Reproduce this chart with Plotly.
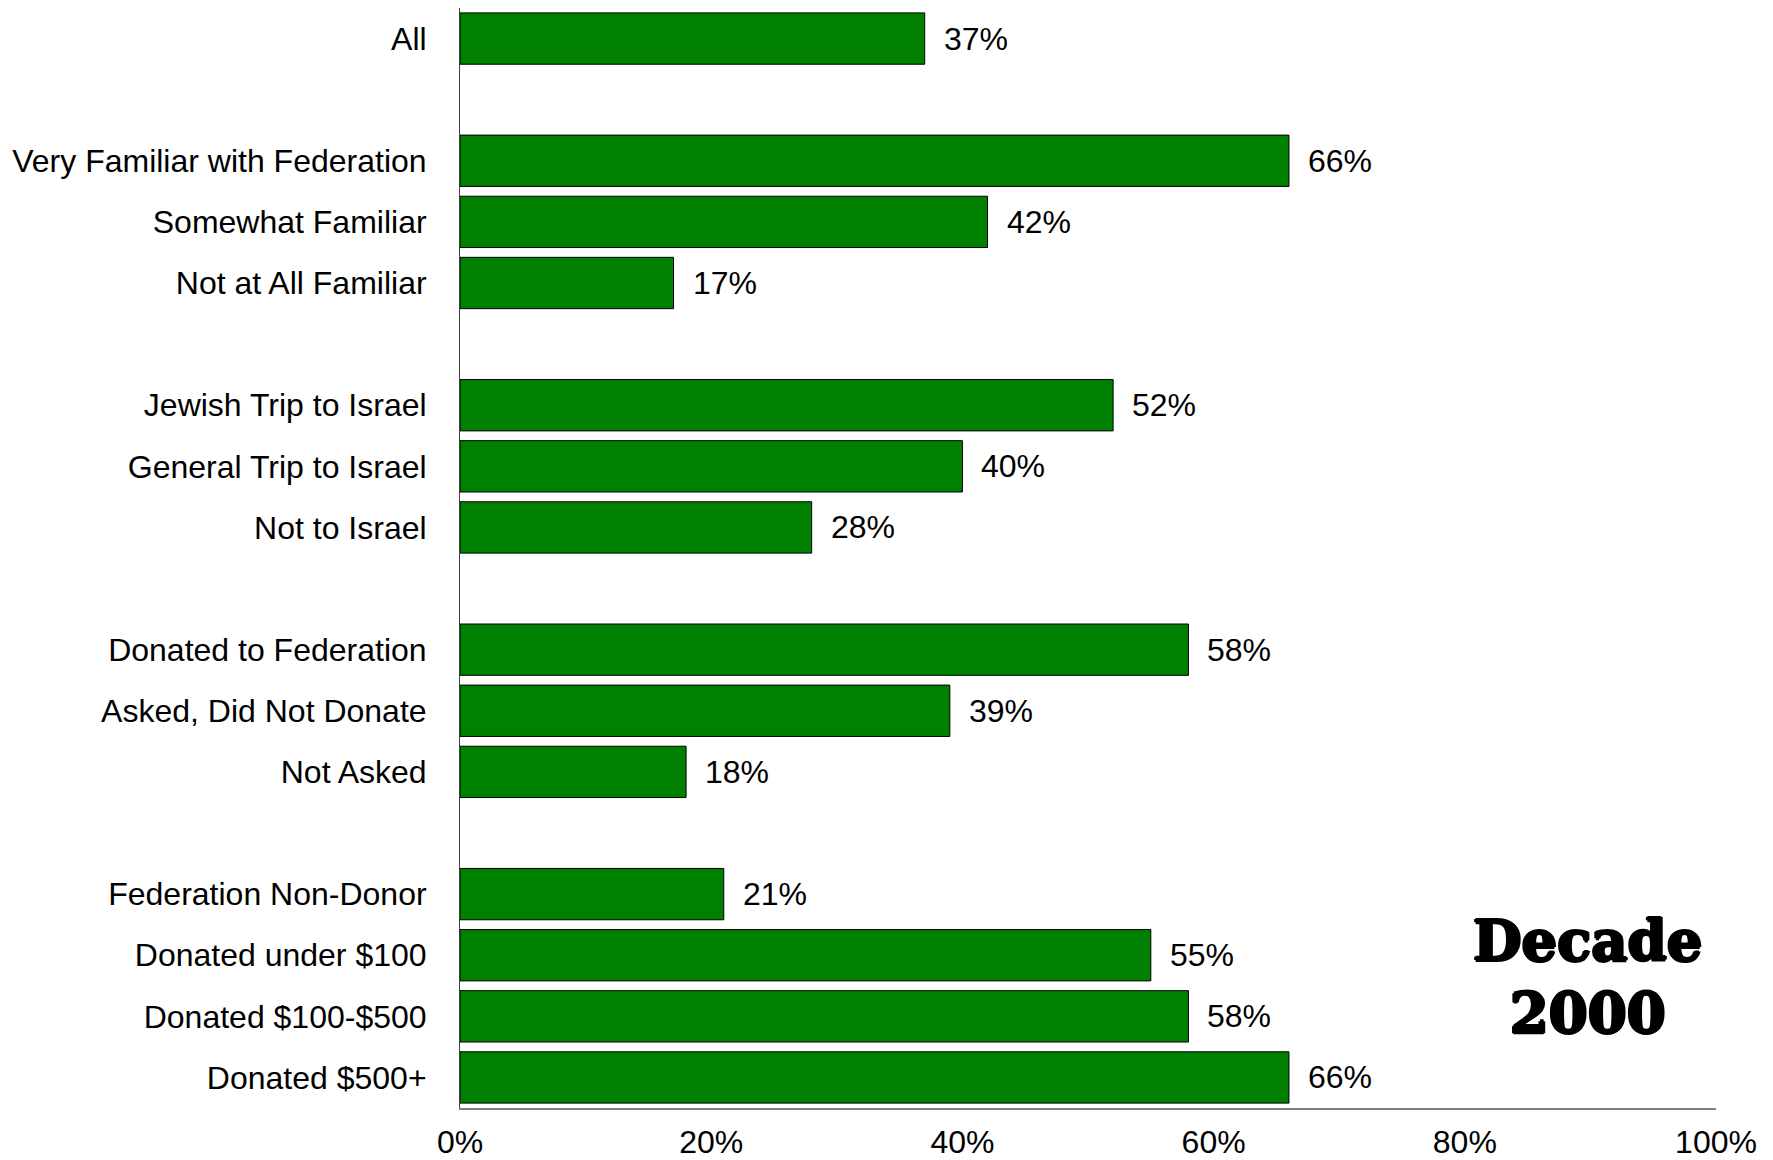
import plotly.graph_objects as go

categories = [
    "All", "",
    "Very Familiar with Federation", "Somewhat Familiar", "Not at All Familiar", " ",
    "Jewish Trip to Israel", "General Trip to Israel", "Not to Israel", "  ",
    "Donated to Federation", "Asked, Did Not Donate", "Not Asked", "   ",
    "Federation Non-Donor", "Donated under $100", "Donated $100-$500", "Donated $500+",
]
values = [
    37, None,
    66, 42, 17, None,
    52, 40, 28, None,
    58, 39, 18, None,
    21, 55, 58, 66,
]
x_ticks = [0, 20, 40, 60, 80, 100]
stamp_text = "Decade<br>2000"

FONT = "Liberation Sans, Arial, sans-serif"
FS = 32

fig = go.Figure()
fig.add_trace(go.Bar(
    y=categories, x=values, orientation="h",
    marker=dict(color="#008000", line=dict(color="#000000", width=1)),
    width=0.84,
    hoverinfo="skip",
))

for c, v in zip(categories, values):
    if v is None:
        continue
    fig.add_annotation(
        x=v, y=c, xref="x", yref="y", text=f"{v}%", showarrow=False,
        xanchor="left", yanchor="middle", xshift=17,
        font=dict(family=FONT, size=FS, color="#000000"),
    )

fig.add_annotation(
    x=0.898, y=0.12, xref="paper", yref="paper", text=stamp_text, showarrow=False,
    xanchor="center", yanchor="middle", align="center",
    font=dict(family="DejaVu Serif, serif", size=56, color="#000000", weight=900,
              shadow="1.5px 0px 0px #000, -1.5px 0px 0px #000, 0px 1.5px 0px #000, 0px -1.5px 0px #000"),
)

fig.update_layout(
    width=1773, height=1160,
    margin=dict(l=452, r=65, t=0, b=60),
    paper_bgcolor="white", plot_bgcolor="white",
    showlegend=False,
    font=dict(family=FONT, size=FS, color="#000000"),
    xaxis=dict(
        range=[0, 100], tickvals=x_ticks, ticktext=[f"{t}%" for t in x_ticks],
        showgrid=False, zeroline=False, showline=True, linecolor="#808080", linewidth=2,
        ticks="", ticklabelstandoff=5, automargin=False,
        tickfont=dict(family=FONT, size=FS, color="#000000"),
    ),
    yaxis=dict(
        categoryorder="array", categoryarray=categories, autorange="reversed",
        showgrid=False, zeroline=False, showline=True, linecolor="#404040", linewidth=1,
        ticks="", ticklabelstandoff=26, automargin=False,
        tickfont=dict(family=FONT, size=FS, color="#000000"),
    ),
)

fig.write_html("out.html")
